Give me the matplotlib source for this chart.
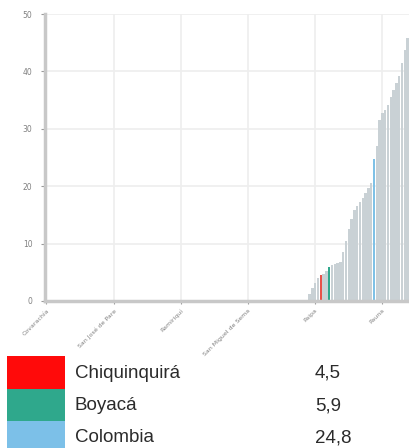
import matplotlib
matplotlib.use("Agg")
import matplotlib.pyplot as plt
from matplotlib.patches import Rectangle

# =============================================================================
# DATA (sorted ascending)
# =============================================================================

zero_values = [
    0, 0, 0, 0, 0, 0, 0, 0, 0, 0, 0, 0, 0, 0, 0, 0, 0, 0, 0, 0,
    0, 0, 0, 0, 0, 0, 0, 0, 0, 0, 0, 0, 0, 0, 0, 0, 0, 0, 0, 0,
    0, 0, 0, 0, 0, 0, 0, 0, 0, 0, 0, 0, 0, 0, 0, 0, 0, 0, 0, 0,
    0, 0, 0, 0, 0, 0, 0, 0, 0, 0, 0, 0, 0, 0, 0, 0, 0, 0, 0, 0,
    0, 0, 0, 0, 0, 0, 0, 0, 0, 0, 0, 0, 0, 0,
]
rising_values = [
    1.2, 2.2, 3.2, 4.0, 4.5, 4.7, 5.3, 5.9, 6.3, 6.5, 6.6, 6.8,
    8.5, 10.5, 12.5, 14.2, 15.8, 16.5, 17.2, 18.0, 18.8, 19.6, 20.5,
    24.8, 27.0, 31.5, 32.7, 33.2, 34.2, 35.5, 36.8, 38.0, 39.2,
    41.4, 43.7, 45.8,
]
values = zero_values + rising_values

tick_positions = [0, 24, 48, 72, 96, 120]
tick_labels = ["Covarachía", "San José de Pare", "Ramiriquí",
               "San Miguel de Sema", "Paipa", "Pauna"]

# highlighted bars: index in the sorted list
highlight_idx = {98: "#e8514a", 101: "#2fa88c", 117: "#7fc1e6"}
base_color = "#c9d1d5"

legend_names = ["Chiquinquirá", "Boyacá", "Colombia"]
legend_values = ["4,5", "5,9", "24,8"]
legend_colors = ["#ff0a0a", "#2fa88c", "#7cc0e8"]

# =============================================================================
# FIGURE
# =============================================================================

W, H = 409, 448
fig = plt.figure(figsize=(W / 100, H / 100), dpi=100)
ax = fig.add_axes([45 / W, (H - 301) / H, (W - 45) / W, 287 / H])

xs = list(range(len(values)))
colors = [highlight_idx.get(i, base_color) for i in xs]
ax.bar(xs, values, width=0.88, color=colors, zorder=2)

ax.set_xlim(-0.5, len(values) - 0.5)
ax.set_ylim(0, 50)
ax.set_yticks([0, 10, 20, 30, 40, 50])
ax.set_xticks(tick_positions)
ax.set_xticklabels(tick_labels, rotation=45, ha="right", rotation_mode="anchor")
ax.tick_params(axis="x", labelsize=4.5, colors="#9a9a9a", length=2, width=0.8,
               labelcolor="#808080", pad=3)
ax.tick_params(axis="y", labelsize=5.5, colors="#9a9a9a", length=3, width=0.8,
               labelcolor="#808080", pad=6)
ax.grid(True, color="#eeeeee", linewidth=1.2, zorder=0)

for side in ["top", "right"]:
    ax.spines[side].set_visible(False)
for side in ["left", "bottom"]:
    ax.spines[side].set_color("#c8c8c8")
    ax.spines[side].set_linewidth(2.5)

# legend table below the chart (pixel coordinates)
lax = fig.add_axes([0, 0, 1, 1], zorder=-1)
lax.set_xlim(0, W)
lax.set_ylim(H, 0)
lax.axis("off")
row_top = [356, 389, 421]
row_h = 33
for name, val, col, top in zip(legend_names, legend_values, legend_colors, row_top):
    lax.add_patch(Rectangle((7, top), 58, row_h, color=col, linewidth=0))
    lax.text(75, top + 17, name, fontsize=13.5, color="#2b2b2b", va="center",
             family="Liberation Sans")
    lax.text(315, top + 17, val, fontsize=13.5, color="#2b2b2b", va="center",
             family="Liberation Sans")

fig.savefig("out.png", dpi=100)
